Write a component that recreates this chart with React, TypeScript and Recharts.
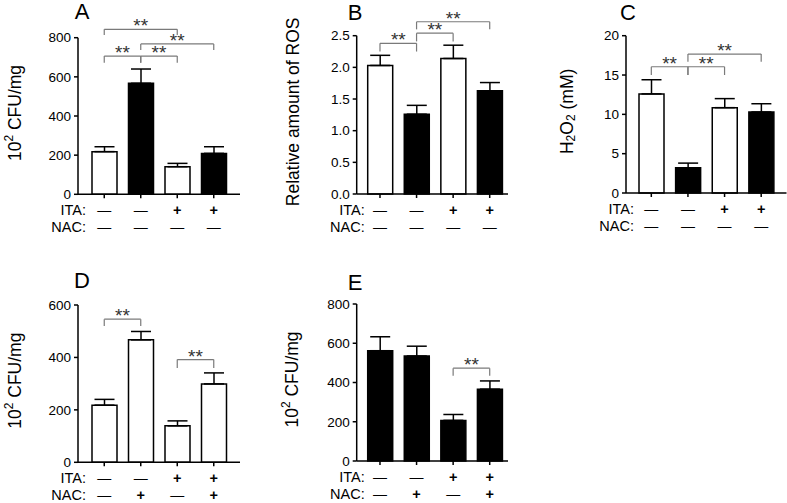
import React from 'react';
import { BarChart, Bar, XAxis, YAxis, ErrorBar, Cell, ReferenceLine, Customized } from 'recharts';

const FONT = '"Liberation Sans", Arial, Helvetica, sans-serif';

// ---- data ----
const groups = ['g1', 'g2', 'g3', 'g4'];
const itaTop = ['-', '-', '+', '+'];
const nacTop = ['-', '-', '-', '-'];
const itaBottom = ['-', '-', '+', '+'];
const nacBottom = ['-', '+', '-', '+'];

const aValues = [218, 567, 141, 209];
const aErrors = [25, 73, 17, 34];
const bValues = [2.03, 1.26, 2.14, 1.63];
const bErrors = [0.16, 0.14, 0.21, 0.13];
const cValues = [12.6, 3.2, 10.85, 10.3];
const cErrors = [1.8, 0.6, 1.15, 1.05];
const dValues = [218, 467, 139, 299];
const dErrors = [22, 32, 19, 42];
const eValues = [562, 535, 207, 366];
const eErrors = [71, 50, 30, 42];

const aFilled = [false, true, false, true];
const bFilled = [false, true, false, true];
const cFilled = [false, true, false, true];
const dFilled = [false, false, false, false];
const eFilled = [true, true, true, true];

const aTicks = [0, 200, 400, 600, 800];
const bTicks = [0, 0.5, 1, 1.5, 2, 2.5];
const cTicks = [0, 5, 10, 15, 20];
const dTicks = [0, 200, 400, 600];
const eTicks = [0, 200, 400, 600, 800];

// significance brackets: [from group index, to group index, level, end of legs]
const aBrackets = [[0, 2, 843, 814], [1, 3, 768, 737], [0, 1, 706, 672], [1, 2, 706, 672]];
const bBrackets = [[0, 1, 2.38, 2.25], [1, 2, 2.54, 2.41], [1, 3, 2.72, 2.6]];
const cBrackets = [[0, 1, 16.05, 15.0], [1, 2, 16.05, 15.0], [1, 3, 17.67, 16.7]];
const dBrackets = [[0, 1, 546, 520], [2, 3, 392, 360]];
const eBrackets = [[2, 3, 473, 435]];

const sign = (s: string) => (s === '+' ? '+' : '\u2014');

const Y_W = 44;
const X_H = 36;

function renderXTick(p: any, ita: string[], nac: string[], x0: number) {
  const { x, y, payload } = p;
  const i = groups.indexOf(payload.value);
  const axisY = y - 4;
  const row1 = axisY + 16;
  const row2 = axisY + 32.5;
  const sym = (s: string, yy: number) =>
    s === '+' ? (
      <text x={x} y={yy} textAnchor="middle" dominantBaseline="central" fontSize={14.5} fontWeight="bold" fill="#000" fontFamily={FONT}>+</text>
    ) : (
      <text x={x} y={yy} textAnchor="middle" dominantBaseline="central" fontSize={14} fill="#000" fontFamily={FONT}>{sign(s)}</text>
    );
  return (
    <g>
      {sym(ita[i], row1)}
      {sym(nac[i], row2)}
      {i === 0 && (
        <>
          <text x={x0 + 8} y={row1} textAnchor="end" dominantBaseline="central" fontSize={14.5} fill="#000" fontFamily={FONT}>ITA:</text>
          <text x={x0 + 8} y={row2} textAnchor="end" dominantBaseline="central" fontSize={14.5} fill="#000" fontFamily={FONT}>NAC:</text>
        </>
      )}
    </g>
  );
}

function Panel(props: any) {
  const { box, geo, pad, values, errors, filled, ticks, fmt, ita, nac, brackets, ylabel, ylabelX, letter, letterPos } = props;
  const data = groups.map((g, i) => ({ g, v: values[i], err: [0, errors[i]] }));
  const margin = {
    left: geo.x0 - Y_W,
    right: box.w - geo.x1,
    top: geo.yTop,
    bottom: box.h - geo.yBottom - X_H,
  };
  const ymid = (geo.yTop + geo.yBottom) / 2 - 3;
  const lineCol = '#7a7a7a';
  const Labels = () => (
    <g>
      <text x={letterPos[0]} y={letterPos[1]} textAnchor="middle" dominantBaseline="central" fontSize={22} fill="#000" fontFamily={FONT}>{letter}</text>
      <text x={ylabelX} y={ymid} transform={`rotate(-90, ${ylabelX}, ${ymid})`} textAnchor="middle" dominantBaseline="central" fontSize={17.5} fill="#000" fontFamily={FONT}>
        {ylabel}
      </text>
    </g>
  );
  return (
    <div style={{ position: 'absolute', left: box.left, top: box.top, width: box.w, height: box.h }}>
      <BarChart width={box.w} height={box.h} data={data} margin={margin} barSize={25}>
        <XAxis
          dataKey="g"
          height={X_H}
          padding={{ left: pad[0], right: pad[1] }}
          axisLine={{ stroke: '#000', strokeWidth: 1.5 }}
          tickLine={{ stroke: '#000', strokeWidth: 1.5 }}
          tickSize={4}
          tickMargin={0}
          interval={0}
          tick={(p: any) => renderXTick(p, ita, nac, geo.x0)}
        />
        <YAxis
          width={Y_W}
          domain={[0, ticks[ticks.length - 1]]}
          ticks={ticks}
          interval={0}
          tickFormatter={fmt}
          axisLine={{ stroke: '#000', strokeWidth: 1.5 }}
          tickLine={{ stroke: '#000', strokeWidth: 1.5 }}
          tickSize={4}
          tickMargin={3}
          tick={{ fontSize: 13.5, fill: '#000', fontFamily: FONT }}
        />
        <Bar dataKey="v" stroke="#000" strokeWidth={1.5} isAnimationActive={false}>
          {data.map((d, i) => (
            <Cell key={d.g} fill={filled[i] ? '#000' : '#fff'} />
          ))}
          <ErrorBar dataKey="err" width={10} stroke="#000" strokeWidth={1.5} direction="y" isAnimationActive={false} />
        </Bar>
        {brackets.map((b: number[], k: number) => (
          <ReferenceLine
            key={`h${k}`}
            segment={[{ x: groups[b[0]], y: b[2] }, { x: groups[b[1]], y: b[2] }]}
            stroke={lineCol}
            strokeWidth={1.2}
            ifOverflow="visible"
            label={{ value: '**', position: 'top', offset: -3, fill: '#333', fontSize: 19, fontFamily: FONT }}
          />
        ))}
        {brackets.map((b: number[], k: number) => (
          <ReferenceLine
            key={`l${k}`}
            segment={[{ x: groups[b[0]], y: b[2] }, { x: groups[b[0]], y: b[3] }]}
            stroke={lineCol}
            strokeWidth={1.2}
            ifOverflow="visible"
          />
        ))}
        {brackets.map((b: number[], k: number) => (
          <ReferenceLine
            key={`r${k}`}
            segment={[{ x: groups[b[1]], y: b[2] }, { x: groups[b[1]], y: b[3] }]}
            stroke={lineCol}
            strokeWidth={1.2}
            ifOverflow="visible"
          />
        ))}
        <Customized component={<Labels />} />
      </BarChart>
    </div>
  );
}

const cfu = (
  <>
    <tspan>10</tspan>
    <tspan dy={-6} fontSize={12}>2</tspan>
    <tspan dy={6}> CFU/mg</tspan>
  </>
);
const h2o2 = (
  <>
    <tspan>H</tspan>
    <tspan dy={4} fontSize={12}>2</tspan>
    <tspan dy={-4}>O</tspan>
    <tspan dy={4} fontSize={12}>2</tspan>
    <tspan dy={-4}> (mM)</tspan>
  </>
);

const intFmt = (v: number) => String(v);
const oneDec = (v: number) => v.toFixed(1);

export default function App() {
  return (
    <div style={{ position: 'relative', width: 787, height: 503, background: '#fff', overflow: 'hidden' }}>
      <style>{'body{margin:0;}'}</style>
      <Panel
        box={{ left: 0, top: 0, w: 250, h: 245 }}
        geo={{ x0: 78, x1: 240, yTop: 37.7, yBottom: 194.3 }}
        pad={[8, 8]}
        values={aValues}
        errors={aErrors}
        filled={aFilled}
        ticks={aTicks}
        fmt={intFmt}
        ita={itaTop}
        nac={nacTop}
        brackets={aBrackets}
        ylabel={cfu}
        ylabelX={15}
        letter="A"
        letterPos={[82, 11]}
      />
      <Panel
        box={{ left: 255, top: 0, w: 260, h: 245 }}
        geo={{ x0: 101.7, x1: 253, yTop: 35.7, yBottom: 194 }}
        pad={[5, 0]}
        values={bValues}
        errors={bErrors}
        filled={bFilled}
        ticks={bTicks}
        fmt={oneDec}
        ita={itaTop}
        nac={nacTop}
        brackets={bBrackets}
        ylabel="Relative amount of ROS"
        ylabelX={38}
        letter="B"
        letterPos={[100, 12]}
      />
      <Panel
        box={{ left: 520, top: 0, w: 267, h: 245 }}
        geo={{ x0: 106, x1: 266.5, yTop: 35.7, yBottom: 193 }}
        pad={[7, 7]}
        values={cValues}
        errors={cErrors}
        filled={cFilled}
        ticks={cTicks}
        fmt={intFmt}
        ita={itaTop}
        nac={nacTop}
        brackets={cBrackets}
        ylabel={h2o2}
        ylabelX={47}
        letter="C"
        letterPos={[108, 12]}
      />
      <Panel
        box={{ left: 0, top: 250, w: 250, h: 253 }}
        geo={{ x0: 78, x1: 240, yTop: 55, yBottom: 212.3 }}
        pad={[8, 8]}
        values={dValues}
        errors={dErrors}
        filled={dFilled}
        ticks={dTicks}
        fmt={intFmt}
        ita={itaBottom}
        nac={nacBottom}
        brackets={dBrackets}
        ylabel={cfu}
        ylabelX={15}
        letter="D"
        letterPos={[82, 30]}
      />
      <Panel
        box={{ left: 255, top: 250, w: 260, h: 253 }}
        geo={{ x0: 101.7, x1: 253, yTop: 54, yBottom: 211 }}
        pad={[5, 0]}
        values={eValues}
        errors={eErrors}
        filled={eFilled}
        ticks={eTicks}
        fmt={intFmt}
        ita={itaBottom}
        nac={nacBottom}
        brackets={eBrackets}
        ylabel={cfu}
        ylabelX={37}
        letter="E"
        letterPos={[100, 32]}
      />
    </div>
  );
}
